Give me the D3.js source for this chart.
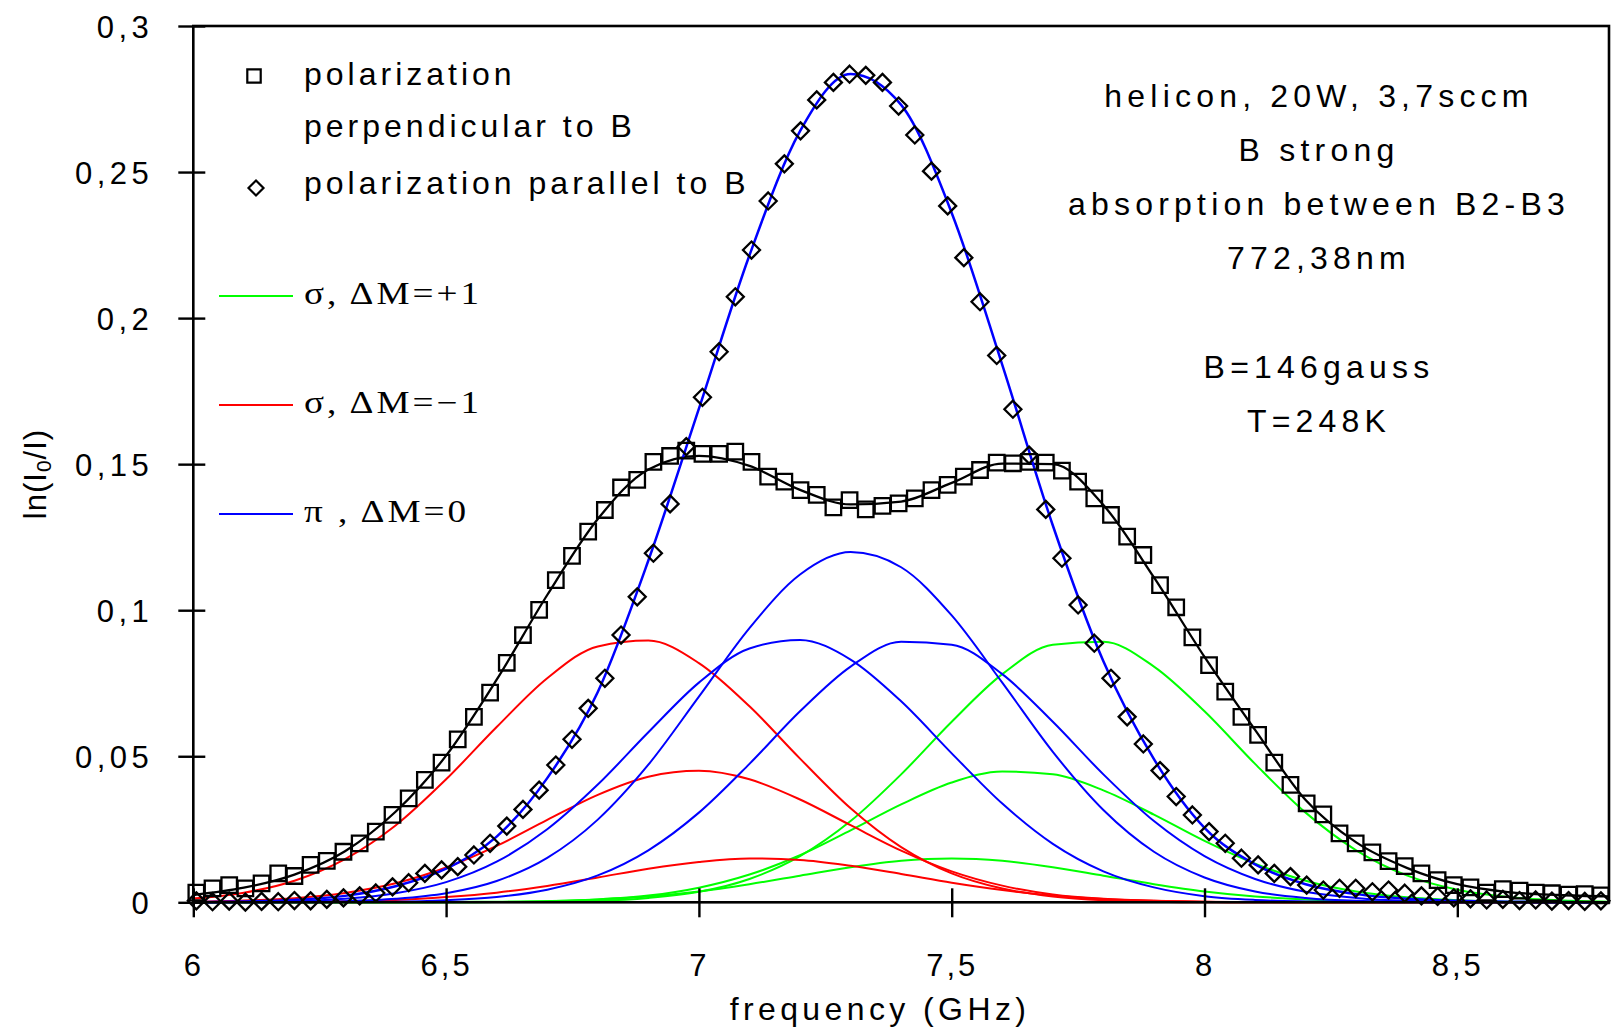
<!DOCTYPE html>
<html>
<head>
<meta charset="utf-8">
<script src="https://cdn.jsdelivr.net/npm/d3@7"></script>
<style>
  body { margin: 0; background: #fff; }
  svg text { font-family: "Liberation Sans", Arial, sans-serif; fill: #000; }
</style>
</head>
<body>
<svg id="chart" width="1615" height="1032"></svg>
<script>
(function() {

    // frequency grid of the fitted components (GHz)
    var gridFreq = [6.0, 6.1, 6.2, 6.3, 6.4, 6.5, 6.6, 6.7, 6.8, 6.9,
        7.0, 7.1, 7.2, 7.3, 7.4, 7.5, 7.6, 7.7, 7.8, 7.9,
        8.0, 8.1, 8.2, 8.3, 8.4, 8.5, 8.6, 8.7, 8.8];

    // sigma, dM=+1 components (green)
    var sigmaPlusBig = [0, 0, 0, 0, 0, 0, .0001, .0002, .0005, .0015,
        .0036, .0080, .0158, .0278, .0438, .0618, .0781, .0882, .0892, .0807,
        .0654, .0474, .0307, .0178, .0092, .0043, .0018, .0007, .0002];
    var sigmaPlusMid = [0, 0, 0, 0, 0, 0, .0001, .0004, .0010, .0023,
        .0050, .0095, .0161, .0246, .0335, .0410, .0448, .0438, .0383, .0300,
        .0210, .0132, .0074, .0037, .0017, .0007, .0002, .0001, 0];
    var sigmaPlusSmall = [0, 0, 0, 0, 0, .0001, .0002, .0004, .0010, .0020,
        .0037, .0062, .0091, .0120, .0142, .0150, .0142, .0120, .0091, .0062,
        .0037, .0020, .0010, .0004, .0002, .0001, 0, 0, 0];

    // sigma, dM=-1 components (red)
    var sigmaMinusBig = [.0013, .0033, .0074, .0148, .0263, .0421, .0600, .0767, .0876, .0896,
        .0819, .0671, .0492, .0322, .0189, .0099, .0047, .0020, .0007, .0002,
        0, 0, 0, 0, 0, 0, 0, 0, 0];
    var sigmaMinusMid = [.0002, .0006, .0014, .0032, .0065, .0119, .0193, .0282, .0368, .0430,
        .0450, .0421, .0352, .0264, .0177, .0106, .0057, .0027, .0012, .0005,
        .0002, 0, 0, 0, 0, 0, 0, 0, 0];
    var sigmaMinusSmall = [0, .0001, .0001, .0004, .0008, .0018, .0033, .0056, .0085, .0115,
        .0138, .0150, .0145, .0125, .0097, .0067, .0042, .0023, .0011, .0005,
        .0002, .0001, 0, 0, 0, 0, 0, 0, 0];

    // pi, dM=0 components (blue)
    var piCentre = [0, 0, .0001, .0004, .0012, .0031, .0073, .0152, .0283, .0471,
        .0704, .0939, .1122, .1199, .1147, .0982, .0752, .0515, .0316, .0173,
        .0085, .0037, .0015, .0005, .0002, 0, 0, 0, 0];
    var piLow = [0, .0001, .0004, .0012, .0031, .0069, .0139, .0250, .0403, .0582,
        .0752, .0869, .0898, .0831, .0688, .0510, .0338, .0200, .0106, .0051,
        .0021, .0008, .0003, .0001, 0, 0, 0, 0, 0];
    var piHigh = [0, 0, 0, .0001, .0002, .0007, .0018, .0043, .0092, .0178,
        .0307, .0474, .0654, .0807, .0892, .0882, .0781, .0618, .0438, .0278,
        .0158, .0080, .0036, .0015, .0005, .0002, .0001, 0, 0];

    // total fits
    var fitPerp = [.0025, .0050, .0095, .0175, .0310, .0502, .0762, .1052, .1312, .1482,
        .1528, .1494, .1412, .1362, .1372, .1436, .1502, .1500, .1360, .1112,
        .0840, .0590, .0350, .0205, .0118, .0062, .0035, .0025, .0020];
    var fitPar = [.0001, .0003, .0008, .0022, .0055, .0115, .0225, .0425, .0720, .1170,
        .1690, .2215, .2640, .2836, .2730, .2360, .1840, .1290, .0825, .0490,
        .0255, .0130, .0062, .0028, .0012, .0005, .0002, .0001, 0];

    // measured points
    var markerFreq = [6.006, 6.038, 6.071, 6.103, 6.135, 6.168, 6.2, 6.232, 6.264, 6.297,
        6.329, 6.361, 6.394, 6.426, 6.458, 6.491, 6.523, 6.555, 6.587, 6.62,
        6.652, 6.684, 6.717, 6.749, 6.781, 6.814, 6.846, 6.878, 6.91, 6.943,
        6.975, 7.007, 7.04, 7.072, 7.104, 7.137, 7.169, 7.201, 7.233, 7.266,
        7.298, 7.33, 7.363, 7.395, 7.427, 7.46, 7.492, 7.524, 7.556, 7.589,
        7.621, 7.653, 7.686, 7.718, 7.75, 7.782, 7.815, 7.847, 7.879, 7.912,
        7.944, 7.976, 8.009, 8.041, 8.073, 8.106, 8.138, 8.17, 8.202, 8.235,
        8.267, 8.299, 8.332, 8.364, 8.396, 8.429, 8.461, 8.493, 8.526, 8.558,
        8.59, 8.623, 8.655, 8.687, 8.72, 8.752, 8.784];
    var perpData = [.0033, .0048, .0059, .0048, .0065, .0099, .0090, .0128, .0142, .0173,
        .0202, .0242, .0299, .0356, .0419, .0478, .0558, .0635, .0718, .0820,
        .0915, .1001, .1103, .1186, .1269, .1343, .1420, .1446, .1508, .1528,
        .1546, .1535, .1535, .1543, .1508, .1457, .1440, .1411, .1395, .1352,
        .1377, .1345, .1357, .1366, .1383, .1411, .1429, .1457, .1480, .1505,
        .1503, .1508, .1505, .1478, .1440, .1383, .1326, .1252, .1189, .1086,
        .1010, .0907, .0812, .0721, .0635, .0573, .0478, .0402, .0339, .0301,
        .0236, .0202, .0171, .0141, .0124, .0099, .0076, .0059, .0051, .0033,
        .0045, .0040, .0033, .0031, .0026, .0028, .0024];
    var parData = [.0005, .0002, .0004, .0001, .0003, .0002, .0006, .0005, .0010, .0015,
        .0022, .0032, .0053, .0067, .0099, .0111, .0122, .0162, .0202, .0261,
        .0318, .0384, .0470, .0558, .0664, .0767, .0915, .1046, .1195, .1364,
        .1560, .1729, .1885, .2073, .2233, .2401, .2528, .2641, .2747, .2807,
        .2835, .2831, .2807, .2726, .2627, .2503, .2384, .2207, .2056, .1872,
        .1688, .1531, .1345, .1178, .1018, .0887, .0767, .0635, .0542, .0451,
        .0362, .0299, .0242, .0202, .0151, .0128, .0099, .0088, .0059, .0042,
        .0048, .0048, .0036, .0042, .0031, .0022, .0020, .0015, .0012, .0008,
        .0010, .0006, .0008, .0004, .0006, .0003, .0005];

    var xTicks = [6, 6.5, 7, 7.5, 8, 8.5];
    var yTicks = [0, 0.05, 0.1, 0.15, 0.2, 0.25, 0.3];

    var markerLegend = [["polarization", "perpendicular to B"], ["polarization parallel to B"]];
    var lineLegend = ["σ, ΔM=+1", "σ, ΔM=−1", "π , ΔM=0"];
    var infoLines = ["helicon, 20W, 3,7sccm", "B strong", "absorption between B2-B3", "772,38nm", "", "B=146gauss", "T=248K"];

    var green = "#00ff00", red = "#ff0000", blue = "#0000ff";
    var sans = "'Liberation Sans', Arial, sans-serif";

    var svg = d3.select("#chart");

    var x = d3.scaleLinear().domain([6, 8.8]).range([193.3, 1609]);
    var y = d3.scaleLinear().domain([0, 0.3]).range([902.3, 26]);

    var fmt = d3.formatLocale({decimal: ",", thousands: ".", grouping: [3], currency: ["", ""]}).format("~g");

    // component curves
    var components = [
        {v: sigmaPlusBig, c: green}, {v: sigmaPlusMid, c: green}, {v: sigmaPlusSmall, c: green},
        {v: sigmaMinusBig, c: red}, {v: sigmaMinusMid, c: red}, {v: sigmaMinusSmall, c: red},
        {v: piCentre, c: blue}, {v: piLow, c: blue}, {v: piHigh, c: blue}
    ];

    var line = d3.line()
        .x(function(d, i) { return x(gridFreq[i]); })
        .y(function(d) { return y(d); })
        .curve(d3.curveMonotoneX);

    svg.append("g").selectAll("path")
        .data(components)
        .enter()
        .append("path")
        .attr("d", function(d) { return line(d.v); })
        .attr("fill", "none")
        .attr("stroke", function(d) { return d.c; })
        .attr("stroke-width", 2);

    // fits
    svg.append("path").attr("d", line(fitPerp))
        .attr("fill", "none").attr("stroke", "#000").attr("stroke-width", 2.3);
    svg.append("path").attr("d", line(fitPar))
        .attr("fill", "none").attr("stroke", blue).attr("stroke-width", 2.5);

    // frame and axes
    svg.append("rect")
        .attr("x", x(6)).attr("y", y(0.3))
        .attr("width", x(8.8) - x(6)).attr("height", y(0) - y(0.3))
        .attr("fill", "none").attr("stroke", "#000").attr("stroke-width", 2.6);

    var yAxis = svg.append("g")
        .attr("transform", "translate(" + x(6) + ",0)")
        .call(d3.axisLeft(y).tickValues(yTicks).tickFormat(fmt).tickSizeInner(15).tickSizeOuter(0));
    yAxis.select(".domain").remove();
    yAxis.selectAll(".tick line").attr("x1", -15).attr("x2", 12).attr("stroke", "#000").attr("stroke-width", 2.4);
    yAxis.selectAll(".tick text")
        .attr("x", -40).attr("dy", "0.36em")
        .style("font-family", sans)
        .style("font-size", "31px").style("letter-spacing", "4.5px");

    var xAxis = svg.append("g")
        .attr("transform", "translate(0," + y(0) + ")")
        .call(d3.axisBottom(x).tickValues(xTicks).tickFormat(fmt).tickSizeInner(15).tickSizeOuter(0));
    xAxis.select(".domain").remove();
    xAxis.selectAll(".tick line").attr("y1", -14).attr("y2", 15).attr("stroke", "#000").attr("stroke-width", 2.4);
    xAxis.selectAll(".tick text")
        .attr("y", 74).attr("dy", 0)
        .style("font-family", sans)
        .style("font-size", "31px").style("letter-spacing", "3px");

    // axis titles
    svg.append("text")
        .attr("x", 880).attr("y", 1020)
        .attr("text-anchor", "middle")
        .style("font-size", "32px").style("letter-spacing", "4.4px")
        .text("frequency (GHz)");

    var yTitle = svg.append("text")
        .attr("transform", "translate(46,474) rotate(-90)")
        .attr("text-anchor", "middle")
        .style("font-size", "31px").style("letter-spacing", "1px");
    yTitle.append("tspan").text("ln(I");
    yTitle.append("tspan").attr("dy", 5).style("font-size", "21px").text("0");
    yTitle.append("tspan").attr("dy", -5).text("/I)");

    // markers
    var squareSym = d3.symbol().type(d3.symbolSquare).size(240)();
    var diamondSym = "M0,-8.5L8.5,0L0,8.5L-8.5,0Z";

    svg.append("g").selectAll("path")
        .data(perpData)
        .enter()
        .append("path")
        .attr("d", squareSym)
        .attr("transform", function(d, i) { return "translate(" + x(markerFreq[i]) + "," + y(d) + ")"; })
        .attr("fill", "none").attr("stroke", "#000").attr("stroke-width", 2.3);

    svg.append("g").selectAll("path")
        .data(parData)
        .enter()
        .append("path")
        .attr("d", diamondSym)
        .attr("transform", function(d, i) { return "translate(" + x(markerFreq[i]) + "," + y(d) + ")"; })
        .attr("fill", "none").attr("stroke", "#000").attr("stroke-width", 2.3);

    // marker legend
    var lg = svg.append("g");
    lg.append("path").attr("d", d3.symbol().type(d3.symbolSquare).size(180)())
        .attr("transform", "translate(254,76)")
        .attr("fill", "none").attr("stroke", "#000").attr("stroke-width", 2.2);
    lg.append("path").attr("d", "M0,-7.5L7.5,0L0,7.5L-7.5,0Z")
        .attr("transform", "translate(256,188)")
        .attr("fill", "none").attr("stroke", "#000").attr("stroke-width", 2.2);

    var mt = lg.append("g").style("font-size", "32px").style("letter-spacing", "4px");
    mt.append("text").attr("x", 304).attr("y", 85).text(markerLegend[0][0]);
    mt.append("text").attr("x", 304).attr("y", 136.5).text(markerLegend[0][1]);
    mt.append("text").attr("x", 304).attr("y", 194).text(markerLegend[1][0]);

    // line legend
    var legendColors = [green, red, blue];
    var legendY = [296, 405, 514];
    var ll = svg.append("g").selectAll("g")
        .data(lineLegend)
        .enter()
        .append("g")
        .attr("transform", function(d, i) { return "translate(0," + legendY[i] + ")"; });
    ll.append("line")
        .attr("x1", 219).attr("x2", 293)
        .attr("stroke", function(d, i) { return legendColors[i]; })
        .attr("stroke-width", 2.2);
    ll.append("text")
        .attr("transform", "translate(304,7.5) scale(1.2,1)")
        .style("font-family", "'Liberation Serif', 'Times New Roman', serif")
        .style("font-size", "31px").style("letter-spacing", "2.5px")
        .style("white-space", "pre")
        .text(function(d) { return d; });

    // info block
    svg.append("g").selectAll("text")
        .data(infoLines)
        .enter()
        .append("text")
        .attr("x", 1319)
        .attr("y", function(d, i) { return 106.5 + i * 54.3; })
        .attr("text-anchor", "middle")
        .style("font-size", "32px").style("letter-spacing", "5.2px")
        .text(function(d) { return d; });

})();
</script>
</body>
</html>
